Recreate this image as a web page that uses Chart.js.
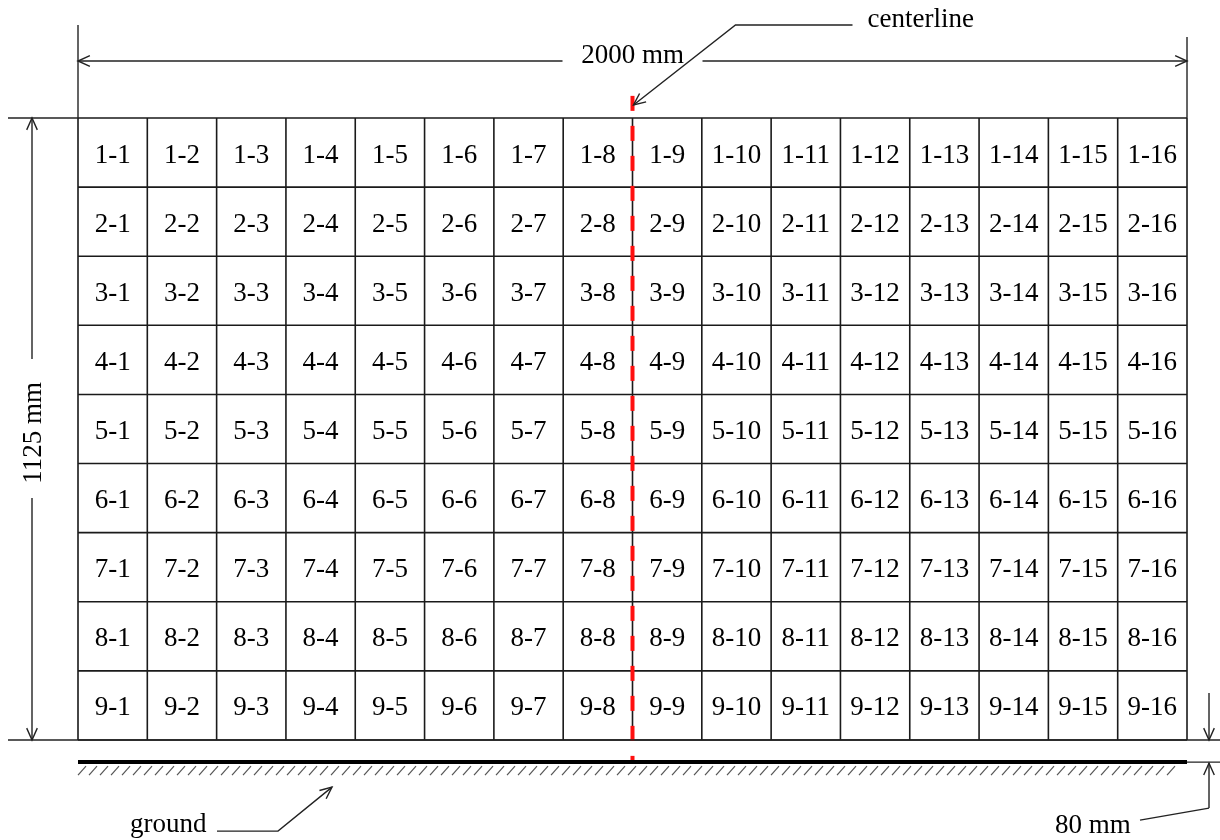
<!DOCTYPE html>
<html>
<head>
<meta charset="utf-8">
<script src="https://cdn.jsdelivr.net/npm/chart.js@4.4.0/dist/chart.umd.min.js"></script>
<style>
  body { margin: 0; background: #fff; }
  #wrap { width: 1220px; height: 840px; }
</style>
</head>
<body>
<div id="wrap"><canvas id="panelChart" width="1220" height="840"></canvas></div>
<script>
// panel of 9 x 16 square cells, 125 mm each
const rowIds = [1, 2, 3, 4, 5, 6, 7, 8, 9];
const colIds = [1, 2, 3, 4, 5, 6, 7, 8, 9, 10, 11, 12, 13, 14, 15, 16];
const cellMm = 125;
const panelWidthMm = 2000;
const panelHeightMm = 1125;
const centerlineMm = 1000;
const centerlineSpan = [1165, -40];   // top / bottom of the dashed line (mm)
const groundLevelMm = -40;            // drawn level of the ground (not to scale)
const dimLabels = ['2000 mm', '1125 mm', '80 mm'];
const calloutLabels = ['centerline', 'ground'];

const FONT = '"Liberation Serif", "Times New Roman", serif';
const INK = '#222';

// grid lines, broken with NaN points
const gridData = [];
for (let r = 0; r <= rowIds.length; r++) {
    gridData.push({ x: 0, y: r * cellMm }, { x: panelWidthMm, y: r * cellMm }, { x: NaN, y: NaN });
}
for (let c = 0; c <= colIds.length; c++) {
    gridData.push({ x: c * cellMm, y: 0 }, { x: c * cellMm, y: panelHeightMm }, { x: NaN, y: NaN });
}

// cell centres, label carried along
const cellData = [];
rowIds.forEach(r => {
    colIds.forEach(c => {
        cellData.push({ x: (c - 0.5) * cellMm, y: panelHeightMm - (r - 0.5) * cellMm, label: r + '-' + c });
    });
});

function arrowHead(ctx, x0, y0, x1, y1) {
    const a = Math.atan2(y1 - y0, x1 - x0);
    const len = 13, spread = 0.42;
    ctx.beginPath();
    ctx.moveTo(x1 - len * Math.cos(a - spread), y1 - len * Math.sin(a - spread));
    ctx.lineTo(x1, y1);
    ctx.lineTo(x1 - len * Math.cos(a + spread), y1 - len * Math.sin(a + spread));
    ctx.stroke();
}

function line(ctx, pts) {
    ctx.beginPath();
    ctx.moveTo(pts[0][0], pts[0][1]);
    for (let i = 1; i < pts.length; i++) ctx.lineTo(pts[i][0], pts[i][1]);
    ctx.stroke();
}

const drawingPlugin = {
    id: 'drawing',
    afterDatasetsDraw(chart) {
        const ctx = chart.ctx;
        const xs = chart.scales.x, ys = chart.scales.y;
        const L = xs.getPixelForValue(0), R = xs.getPixelForValue(panelWidthMm);
        const T = ys.getPixelForValue(panelHeightMm), B = ys.getPixelForValue(0);
        const C = xs.getPixelForValue(centerlineMm);
        const G = ys.getPixelForValue(groundLevelMm);

        ctx.save();

        // --- cell labels ---
        const cellMeta = chart.getDatasetMeta(2);
        ctx.fillStyle = '#000';
        ctx.font = '27px ' + FONT;
        ctx.textAlign = 'center';
        ctx.textBaseline = 'alphabetic';
        cellMeta.data.forEach((pt, i) => {
            ctx.fillText(cellData[i].label, pt.x, pt.y + 10);
        });

        ctx.strokeStyle = INK;
        ctx.lineWidth = 1.4;

        // --- top dimension (width) ---
        const dimY = T - 57;
        line(ctx, [[L, T], [L, T - 93]]);
        line(ctx, [[R, T], [R, T - 81]]);
        line(ctx, [[L, dimY], [C - 70, dimY]]);
        line(ctx, [[C + 70, dimY], [R, dimY]]);
        arrowHead(ctx, L + 20, dimY, L, dimY);
        arrowHead(ctx, R - 20, dimY, R, dimY);
        ctx.textAlign = 'center';
        ctx.fillText(dimLabels[0], C, dimY + 2);

        // --- left dimension (height) ---
        const dimX = L - 46;
        line(ctx, [[L - 70, T], [L, T]]);
        line(ctx, [[L - 70, B], [1220, B]]);
        const midY = (T + B) / 2 + 0;
        line(ctx, [[dimX, T], [dimX, midY - 70]]);
        line(ctx, [[dimX, midY + 69], [dimX, B]]);
        arrowHead(ctx, dimX, T + 20, dimX, T);
        arrowHead(ctx, dimX, B - 20, dimX, B);
        ctx.save();
        ctx.translate(dimX + 9, midY + 4);
        ctx.rotate(-Math.PI / 2);
        ctx.textAlign = 'center';
        ctx.fillText(dimLabels[1], 0, 0);
        ctx.restore();

        // --- centerline callout ---
        line(ctx, [[C + 220, T - 93], [C + 103, T - 93], [C + 1, T - 13]]);
        arrowHead(ctx, C + 103, T - 93, C + 1, T - 13);
        ctx.textAlign = 'left';
        ctx.fillText(calloutLabels[0], C + 235, T - 91);

        // --- ground ---
        ctx.lineWidth = 4;
        ctx.strokeStyle = '#000';
        line(ctx, [[L, G], [R, G]]);
        ctx.lineWidth = 1.2;
        ctx.strokeStyle = '#555';
        for (let hx = L; hx < R - 14; hx += 11) {
            line(ctx, [[hx, G + 13], [hx + 8, G + 4]]);
        }
        ctx.strokeStyle = INK;
        ctx.lineWidth = 1.4;
        line(ctx, [[L + 139, G + 69], [L + 200, G + 69], [L + 254, G + 25]]);
        arrowHead(ctx, L + 200, G + 69, L + 254, G + 25);
        ctx.textAlign = 'left';
        ctx.fillText(calloutLabels[1], L + 52, G + 70);

        // --- ground gap (80 mm) ---
        const gx = R + 22;
        line(ctx, [[R, G], [1220, G]]);
        line(ctx, [[gx, B - 47], [gx, B]]);
        arrowHead(ctx, gx, B - 20, gx, B);
        line(ctx, [[gx, G + 46], [gx, G + 1]]);
        arrowHead(ctx, gx, G + 21, gx, G + 1);
        line(ctx, [[gx, G + 46], [gx - 69, G + 58]]);
        ctx.textAlign = 'left';
        ctx.fillText(dimLabels[2], R - 132, G + 71);

        ctx.restore();
    }
};

new Chart(document.getElementById('panelChart'), {
    type: 'scatter',
    data: {
        datasets: [
            {
                label: 'centerline',
                data: [{ x: centerlineMm, y: centerlineSpan[0] }, { x: centerlineMm, y: centerlineSpan[1] }],
                showLine: true,
                borderColor: '#ff1010',
                borderWidth: 4,
                borderDash: [15, 15],
                pointRadius: 0,
                order: 0
            },
            {
                label: 'grid',
                data: gridData,
                showLine: true,
                spanGaps: false,
                borderColor: '#1a1a1a',
                borderWidth: 1.6,
                pointRadius: 0,
                order: 1
            },
            {
                label: 'cells',
                data: cellData,
                pointRadius: 0,
                order: 2
            }
        ]
    },
    options: {
        responsive: false,
        animation: false,
        layout: { padding: 0 },
        plugins: { legend: { display: false }, tooltip: { enabled: false } },
        scales: {
            x: { type: 'linear', display: false, min: -140.67, max: 2059.5 },
            y: { type: 'linear', display: false, min: -180.87, max: 1338.4 }
        }
    },
    plugins: [drawingPlugin]
});
</script>
</body>
</html>
